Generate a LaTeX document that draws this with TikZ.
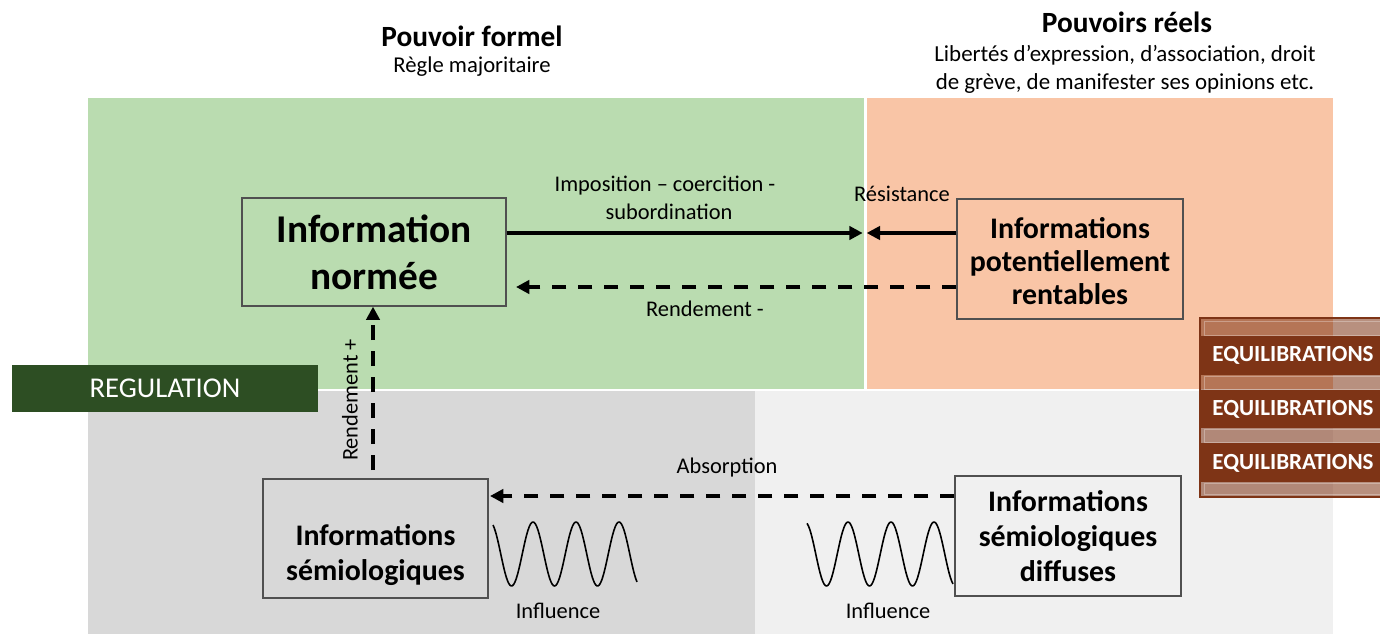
\documentclass[tikz,border=0pt]{standalone}
\usepackage{fontspec}
\setmainfont{Carlito}
\usetikzlibrary{arrows.meta}
\definecolor{zoneformel}{RGB}{186,220,176}
\definecolor{zonereel}{RGB}{249,197,166}
\definecolor{zonegris}{RGB}{216,216,216}
\definecolor{zoneclair}{RGB}{240,240,240}
\definecolor{vertfonce}{RGB}{45,78,35}
\definecolor{brun}{RGB}{126,52,22}
\definecolor{bord}{RGB}{80,80,80}
\tikzset{
  infobox/.style={draw=bord, line width=1, fill=none, inner sep=0pt},
  boxtext/.style={font=\bfseries\fontsize{22.4}{26.5}\selectfont, align=center, inner sep=0pt},
  lbl/.style={font=\fontsize{16.8}{19.5}\selectfont, inner sep=0pt},
  plein/.style={line width=2.4, -{Triangle[length=10,width=10]}},
  tirets/.style={line width=2.6, dash pattern=on 11 off 8.5, -{Triangle[length=10,width=10]}},
  onde/.style={line width=1.2, line join=round},
  bande/.style={fill=brun, draw=none},
  eqtext/.style={font=\bfseries\fontsize{17.3}{20}\selectfont, text=white, inner sep=0pt}
}
\begin{document}
\begin{tikzpicture}[x=0.75pt,y=-0.75pt]
\useasboundingbox (0,0) rectangle (1380,634);
% background zones
\fill[zoneformel] (88,98) rectangle (864,389);
\fill[zonereel] (867,98) rectangle (1333,389);
\fill[zonegris] (88,391) rectangle (755,634);
\fill[zoneclair] (755,391) rectangle (1333,634);

% headings
\node[font=\bfseries\fontsize{22}{26}\selectfont, inner sep=0pt] (formel) at (472,36) {Pouvoir formel};
\node[font=\fontsize{17}{20}\selectfont, inner sep=0pt] (regle) at (472,67) {Règle majoritaire};
\node[font=\bfseries\fontsize{22}{26}\selectfont, inner sep=0pt] (reels) at (1127,22) {Pouvoirs réels};
\node[font=\fontsize{17.2}{21}\selectfont, align=center, inner sep=0pt] (libertes) at (1125,69)
  {Libertés d’expression, d’association, droit\\de grève, de manifester ses opinions etc.};

% regulation band
\node[fill=vertfonce, minimum width=229.5, minimum height=35.25, inner sep=0pt,
  text=white, font=\fontsize{21.5}{24}\selectfont] (regulation) at (165,388.5) {REGULATION};

% information boxes
\node[infobox, minimum width=198, minimum height=81] (norm) at (374,252) {};
\node[boxtext, font=\bfseries\fontsize{29.5}{35}\selectfont] (normtxt) at (374,252) {Information\\normée};
\node[infobox, minimum width=169.5, minimum height=90] (rent) at (1070,259) {};
\node[boxtext, font=\bfseries\fontsize{22.4}{24.8}\selectfont] (renttxt) at (1070,261) {Informations\\potentiellement\\rentables};
\node[infobox, minimum width=168.75, minimum height=89.25] (semio) at (375.5,538.5) {};
\node[boxtext] (semiotxt) at (375.5,555) {Informations\\sémiologiques};
\node[infobox, minimum width=169.5, minimum height=90] (diff) at (1068,536) {};
\node[boxtext] (difftxt) at (1068,536) {Informations\\sémiologiques\\diffuses};

% meeting point of the two forces
\coordinate (rencontre) at (864,233);
\coordinate (rdtmoins) at (516,287);
\coordinate (rdtplus) at (373,470);
\coordinate (absorb) at (490,496);

% connectors
\draw[plein] (norm.east |- rencontre) -- ([xshift=-1]rencontre);
\draw[plein] (rent.west |- rencontre) -- ([xshift=2]rencontre);
\draw[tirets] (rent.west |- rdtmoins) -- (rdtmoins);
\draw[tirets] (rdtplus) -- (rdtplus |- norm.south);
\draw[tirets] (diff.west |- absorb) -- (absorb);

% connector labels
\node[lbl] (imposition) at (665,186) {Imposition – coercition -};
\node[lbl] (subord) at (669,212) {subordination};
\node[lbl] (resist) at (902,194) {Résistance};
\node[lbl] (rdtm) at (705,309) {Rendement -};
\node[lbl] (absorption) at (727,468) {Absorption};
\node[lbl, rotate=90] (rdtp) at (350,400) {Rendement +};

% influence waves (period 43)
\draw[onde] plot[domain=3:147, samples=120, smooth] ({490+\x},{554-32*cos(8.372*\x)});
\draw[onde] plot[domain=2:148, samples=120, smooth] ({805+\x},{554-32*cos(8.372*\x)});
\node[lbl] (infl1) at (558,611) {Influence};
\node[lbl] (infl2) at (888,611) {Influence};

% equilibrations block
\fill[brun, opacity=0.55] (1200,318) rectangle (1380,497);
\draw[brun, line width=1.1] (1200,318) rectangle (1381,497);
\draw[white, opacity=0.3, line width=0.6] (1204,321) rectangle (1381,335)
  (1204,376) rectangle (1381,389) (1204,429) rectangle (1381,442) (1204,483) rectangle (1381,494);
\fill[bande] (1199,336) rectangle (1380,375);
\fill[bande] (1199,390) rectangle (1380,428);
\fill[bande] (1199,443) rectangle (1380,482);
\node[eqtext] (eq1) at (1293,355) {EQUILIBRATIONS};
\node[eqtext] (eq2) at (1293,409) {EQUILIBRATIONS};
\node[eqtext] (eq3) at (1293,463) {EQUILIBRATIONS};
\end{tikzpicture}
\end{document}
